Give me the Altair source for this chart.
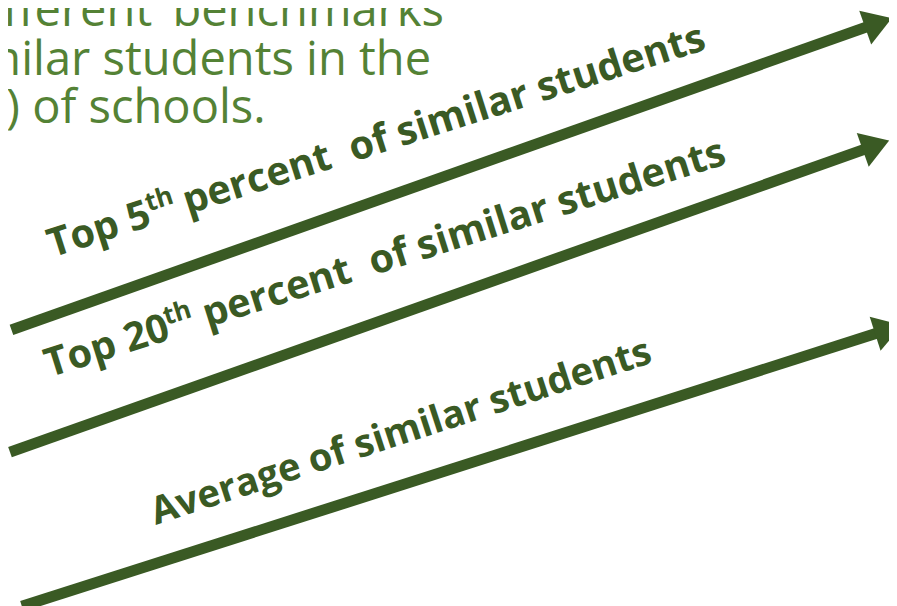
import math
import altair as alt
import pandas as pd

# ---- data (reference pixel space) ----
arrow_id = ["a1", "a2", "a3"]
arrow_x1 = [11.5, 10.0, 22.0]
arrow_y1 = [330.0, 453.5, 609.0]
arrow_x2 = [873.0, 870.5, 883.0]
arrow_y2 = [25.0, 148.5, 334.0]

label_id = ["t1", "t2", "t3"]
label_x = [53.0, 50.0, 157.0]
label_y = [257.0, 378.0, 527.0]
label_angle = [17.66, 17.5, 18.1]

top_lines = ["fferent \u2018benchmarks\u2019", "milar students in the", ") of schools."]
top_x = [456.0, 435.0, 268.0]
top_y = [23.0, 73.0, 121.0]

DARK = "#3a5a24"
LIGHT = "#548235"
HEAD_R = 14.2

# ---- tables ----
shafts = pd.DataFrame({"id": arrow_id, "x": arrow_x1, "y": arrow_y1,
                       "x2": arrow_x2, "y2": arrow_y2})
hx, hy, ha = [], [], []
for x1, y1, x2, y2 in zip(arrow_x1, arrow_y1, arrow_x2, arrow_y2):
    L = math.hypot(x2 - x1, y2 - y1)
    ux, uy = (x2 - x1) / L, (y2 - y1) / L
    hx.append(x2 + HEAD_R * ux)
    hy.append(y2 + HEAD_R * uy)
    ha.append((math.degrees(math.atan2(uy, ux))) % 360)
heads = pd.DataFrame({"x": hx, "y": hy, "angle": ha})
# extend shafts slightly into heads
shafts["x2"] = [x + 4 * (hx[i] - x) / HEAD_R for i, x in enumerate(arrow_x2)]
shafts["y2"] = [y + 4 * (hy[i] - y) / HEAD_R for i, y in enumerate(arrow_y2)]

labels = pd.DataFrame({"id": label_id, "x": label_x, "y": label_y,
                       "angle": [(360 - a) % 360 for a in label_angle]})
tops = pd.DataFrame({"text": top_lines, "x": top_x, "y": top_y})

xs = alt.Scale(domain=[8, 897], nice=False, zero=False)
ys = alt.Scale(domain=[8, 606], nice=False, zero=False, reverse=True)

shaft_layer = alt.Chart(shafts).mark_rule(color=DARK, strokeWidth=11, strokeCap="butt").encode(
    x=alt.X("x:Q", scale=xs, axis=None),
    y=alt.Y("y:Q", scale=ys, axis=None),
    x2="x2:Q", y2="y2:Q")

head_layer = alt.Chart(heads).mark_point(
    shape="M-1,-1.27L1,0L-1,1.27Z", filled=True, color=DARK, opacity=1,
    size=(2 * HEAD_R) ** 2, strokeWidth=0).encode(
    x=alt.X("x:Q", scale=xs, axis=None),
    y=alt.Y("y:Q", scale=ys, axis=None),
    angle=alt.Angle("angle:Q", scale=None))

top_layer = alt.Chart(tops).mark_text(
    align="right", baseline="alphabetic", font="Open Sans", fontSize=47.5,
    color=LIGHT).encode(
    x=alt.X("x:Q", scale=xs, axis=None),
    y=alt.Y("y:Q", scale=ys, axis=None),
    text="text:N")

BIG = 40
SUP = 26


def seg(lid, text, dx, dy=0, size=BIG):
    return alt.Chart(labels).transform_filter(alt.datum.id == lid).mark_text(
        align="left", baseline="alphabetic", font="Open Sans", fontWeight="bold",
        fontSize=size, color=DARK, dx=dx, dy=dy, text=text).encode(
        x=alt.X("x:Q", scale=xs, axis=None),
        y=alt.Y("y:Q", scale=ys, axis=None),
        angle=alt.Angle("angle:Q", scale=None))


segs = [
    seg("t1", "Top 5", 0),
    seg("t1", "th", 106, -15, SUP),
    seg("t1", "percent\u00a0\u00a0of similar students", 143),
    seg("t2", "Top 20", 0),
    seg("t2", "th", 128, -15, SUP),
    seg("t2", "percent\u00a0\u00a0of similar students", 167),
    seg("t3", "Average of similar students", 0, 0, 38.6),
]

chart = alt.layer(shaft_layer, head_layer, top_layer, *segs).properties(
    width=889, height=598, padding=0,
    autosize=alt.AutoSizeParams(type="none")
).configure_view(stroke=None)

chart.save("out.html", embed_options={"renderer": "svg", "actions": False})
